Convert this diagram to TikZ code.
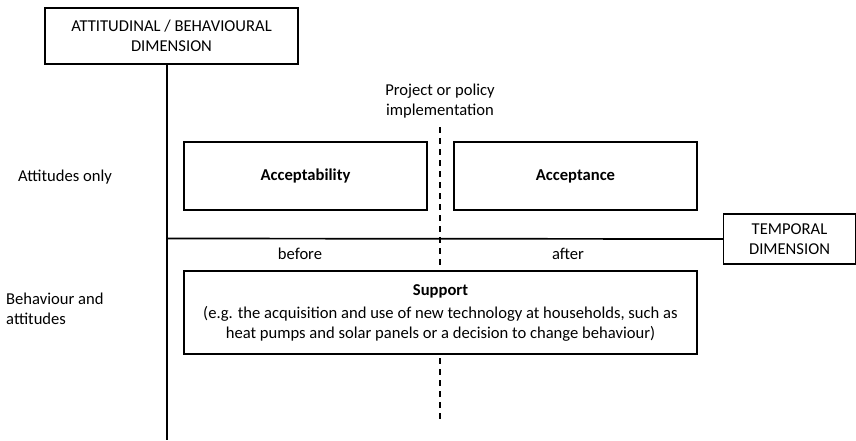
\documentclass[tikz,border=0pt]{standalone}
\usepackage{fontspec}
\setmainfont{Carlito}

\begin{document}
\begin{tikzpicture}[x=1pt, y=-1pt, font=\fontsize{16.6}{20}\selectfont,
        dimbox/.style={draw, line width=1.2pt, align=center, inner sep=0pt},
        catbox/.style={draw, line width=1.2pt, align=center, inner sep=0pt, minimum width=243pt, minimum height=68pt},
        axis/.style={line width=1.7pt},
        txt/.style={align=center, inner sep=0pt}]
    \useasboundingbox (0,0) rectangle (856,440);

    \node[dimbox, minimum width=253pt, minimum height=56pt](attdim) at (171.5,36){ATTITUDINAL / BEHAVIOURAL\\DIMENSION};
    \node[dimbox, minimum width=132pt, minimum height=50pt](tempdim) at (789.5,239){TEMPORAL\\DIMENSION};

    \coordinate(origin) at (167,238.5);
    \coordinate(axisend) at (167,440);
    \draw[axis](attdim.south -| origin)--(axisend);
    \draw[axis](origin)--(tempdim.west);

    \node[txt](impl) at (440,101){Project or policy\\implementation};
    \coordinate(dashtop) at (440,127);
    \coordinate(dashend) at (440,423);
    \draw[dashed, line width=1.2pt, dash pattern=on 6pt off 5pt](dashtop)--(dashend);

    \node[catbox, fill=white](acceptability) at (305.5,176){\textbf{Acceptability}};
    \node[catbox, fill=white](acceptance) at (575.5,176){\textbf{Acceptance}};
    \node[catbox, fill=white, minimum width=513pt, minimum height=83pt](support) at (440.5,312.5){\textbf{Support}\\[3pt](e.g. the acquisition and use of new technology at households, such as\\heat pumps and solar panels or a decision to change behaviour)};

    \node[txt](before) at (300,254){before};
    \node[txt](after) at (568,254){after};

    \node[txt](attonly) at (65,177){Attitudes only};
    \node[txt, align=left, anchor=west](behatt) at (6,308.5){Behaviour and\\attitudes};
\end{tikzpicture}
\end{document}
